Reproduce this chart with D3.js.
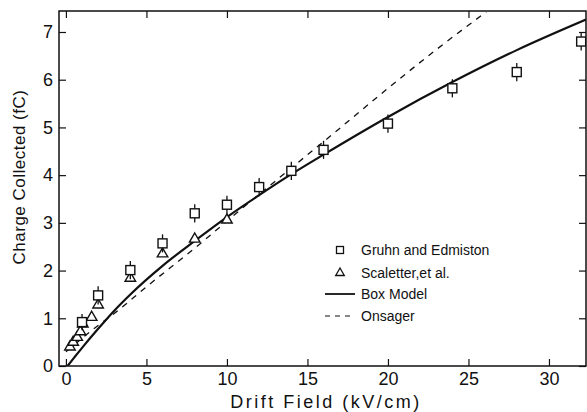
<!DOCTYPE html>
<html>
<head>
<meta charset="utf-8">
<script src="https://cdn.jsdelivr.net/npm/d3@7"></script>
<style>
  body { margin: 0; background: #fff; }
  text { font-family: "Liberation Sans", Arial, sans-serif; fill: #111; }
</style>
</head>
<body>
<div id="chart"></div>
<script>
// Gruhn and Edmiston (squares, with error bars)
const gruhnX = [1, 2, 4, 6, 8, 10, 12, 14, 16, 20, 24, 28, 32];
const gruhnY = [0.92, 1.48, 2.01, 2.57, 3.2, 3.38, 3.75, 4.09, 4.53, 5.08, 5.82, 6.16, 6.8];
const gruhnErr = [0.17, 0.19, 0.19, 0.19, 0.19, 0.19, 0.19, 0.19, 0.19, 0.19, 0.19, 0.19, 0.19];

// Scaletter, et al. (triangles)
const scalX = [0.25, 0.45, 0.7, 0.9, 1.05, 1.6, 2, 4, 6, 8, 10];
const scalY = [0.4, 0.5, 0.6, 0.72, 0.88, 1.02, 1.28, 1.84, 2.35, 2.66, 3.06];

// Box Model curve
const boxX = [0.1, 0.5, 1, 2, 3, 4, 6, 8, 10, 12, 14, 16, 20, 24, 28, 32.3];
const boxY = [0, 0.17, 0.38, 0.78, 1.16, 1.5, 2.1, 2.62, 3.12, 3.58, 4.02, 4.43, 5.22, 5.95, 6.62, 7.26];

// Onsager curve
const onsX = [0, 2, 3, 5, 8, 11, 14, 17, 20, 23, 26.1];
const onsY = [0.3, 0.85, 1.1, 1.66, 2.47, 3.32, 4.15, 4.98, 5.82, 6.63, 7.42];

const xTicks = [0, 5, 10, 15, 20, 25, 30];
const yTicks = [0, 1, 2, 3, 4, 5, 6, 7];

const width = 587, height = 412;
const m = { left: 59, right: 586, top: 11, bottom: 366 };

const svg = d3.select("#chart").append("svg")
    .attr("width", width)
    .attr("height", height);

const x = d3.scaleLinear().domain([-0.43, 32.3]).range([m.left, m.right]);
const y = d3.scaleLinear().domain([0, 7.44]).range([m.bottom, m.top]);

const tickLen = 7;

// axes with inward ticks on all four sides
const axes = svg.append("g");
axes.append("g")
    .attr("transform", `translate(0,${m.bottom})`)
    .call(d3.axisBottom(x).tickValues(xTicks).tickSize(-tickLen).tickPadding(6));
axes.append("g")
    .attr("transform", `translate(0,${m.top})`)
    .call(d3.axisTop(x).tickValues(xTicks).tickSize(-tickLen).tickFormat(""));
axes.append("g")
    .attr("transform", `translate(${m.left},0)`)
    .call(d3.axisLeft(y).tickValues(yTicks).tickSize(-tickLen).tickPadding(6));
axes.append("g")
    .attr("transform", `translate(${m.right},0)`)
    .call(d3.axisRight(y).tickValues(yTicks).tickSize(-tickLen).tickFormat(""));

axes.selectAll(".domain").remove();
axes.selectAll(".tick line").attr("stroke", "#111").attr("stroke-width", 1.2);
axes.selectAll(".tick text")
    .style("font-size", "18px")
    .style("font-family", "'Liberation Sans', Arial, sans-serif")
    .attr("fill", "#111");

svg.append("rect")
    .attr("x", m.left).attr("y", m.top)
    .attr("width", m.right - m.left).attr("height", m.bottom - m.top)
    .attr("fill", "none").attr("stroke", "#111").attr("stroke-width", 1.5);

// clip to the plot frame
svg.append("clipPath").attr("id", "clip")
  .append("rect").attr("x", m.left).attr("y", m.top)
    .attr("width", m.right - m.left).attr("height", m.bottom - m.top);

const plot = svg.append("g").attr("clip-path", "url(#clip)");

const line = d3.line().x(d => x(d[0])).y(d => y(d[1])).curve(d3.curveMonotoneX);

plot.append("path")
    .datum(onsX.map((v, i) => [v, onsY[i]]))
    .attr("d", line)
    .attr("fill", "none").attr("stroke", "#111")
    .attr("stroke-width", 1.3).attr("stroke-dasharray", "6,6");

plot.append("path")
    .datum(boxX.map((v, i) => [v, boxY[i]]))
    .attr("d", line)
    .attr("fill", "none").attr("stroke", "#111").attr("stroke-width", 2.2);

// triangles
const tri = d3.symbol().type(d3.symbolTriangle).size(48);
plot.selectAll(".tri")
    .data(scalX.map((v, i) => [v, scalY[i]]))
    .enter().append("path")
    .attr("class", "tri")
    .attr("d", tri)
    .attr("transform", d => `translate(${x(d[0])},${y(d[1])})`)
    .attr("fill", "#fff").attr("stroke", "#111").attr("stroke-width", 1.4);

// squares with error bars
const sq = gruhnX.map((v, i) => ({ x: v, y: gruhnY[i], e: gruhnErr[i] }));
const sqG = plot.selectAll(".sq").data(sq).enter().append("g")
    .attr("class", "sq");
sqG.append("line")
    .attr("x1", d => x(d.x)).attr("x2", d => x(d.x))
    .attr("y1", d => y(d.y + d.e)).attr("y2", d => y(d.y - d.e))
    .attr("stroke", "#111").attr("stroke-width", 1.3);
sqG.append("rect")
    .attr("x", d => x(d.x) - 4.5).attr("y", d => y(d.y) - 4.5)
    .attr("width", 9).attr("height", 9)
    .attr("fill", "#fff").attr("stroke", "#111").attr("stroke-width", 1.4);

// legend
const legend = svg.append("g").style("font-size", "14px");
legend.append("rect")
    .attr("x", 336.5).attr("y", 246.5).attr("width", 7).attr("height", 7)
    .attr("fill", "none").attr("stroke", "#111").attr("stroke-width", 1.3);
legend.append("text").attr("x", 361).attr("y", 255).text("Gruhn and Edmiston");

legend.append("path")
    .attr("d", d3.symbol().type(d3.symbolTriangle).size(32))
    .attr("transform", "translate(340,273)")
    .attr("fill", "none").attr("stroke", "#111").attr("stroke-width", 1.3);
legend.append("text").attr("x", 361).attr("y", 278).text("Scaletter,et al.");

legend.append("line")
    .attr("x1", 325).attr("x2", 355).attr("y1", 294).attr("y2", 294)
    .attr("stroke", "#111").attr("stroke-width", 1.8);
legend.append("text").attr("x", 361).attr("y", 299).text("Box Model");

legend.append("line")
    .attr("x1", 325).attr("x2", 355).attr("y1", 316).attr("y2", 316)
    .attr("stroke", "#111").attr("stroke-width", 1.2).attr("stroke-dasharray", "5,5");
legend.append("text").attr("x", 361).attr("y", 321).text("Onsager");

// axis titles
svg.append("text")
    .attr("x", 326).attr("y", 408)
    .attr("text-anchor", "middle")
    .style("font-size", "18px").style("letter-spacing", "2.5px")
    .text("Drift Field (kV/cm)");

svg.append("text")
    .attr("transform", "translate(25,177) rotate(-90)")
    .attr("text-anchor", "middle")
    .style("font-size", "17px").style("letter-spacing", "0.5px")
    .text("Charge Collected (fC)");
</script>
</body>
</html>
